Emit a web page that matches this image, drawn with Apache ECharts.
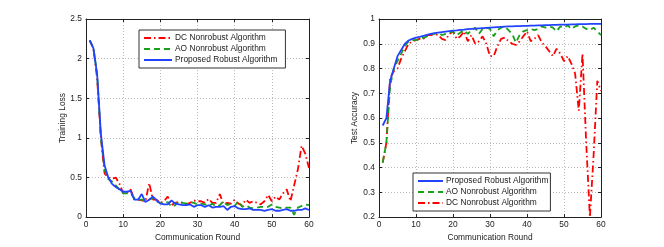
<!DOCTYPE html>
<html>
<head>
<meta charset="utf-8">
<script src="https://cdn.jsdelivr.net/npm/echarts@6/dist/echarts.min.js"></script>
<style>html,body{margin:0;padding:0;background:#fff}#c{width:664px;height:247px}</style>
</head>
<body>
<div id="c"></div>
<script>
var rounds = [];
for (var i = 1; i <= 60; i++) rounds.push(i);

var lossProposed = [2.23,2.13,1.8,1.05,0.65,0.5,0.42,0.38,0.35,0.32,0.32,0.33,0.22,0.22,0.29,0.19,0.22,0.26,0.21,0.17,0.16,0.16,0.21,0.17,0.16,0.15,0.15,0.16,0.13,0.15,0.15,0.13,0.15,0.12,0.13,0.13,0.14,0.09,0.13,0.14,0.11,0.1,0.1,0.11,0.09,0.09,0.09,0.08,0.09,0.1,0.08,0.08,0.09,0.1,0.08,0.08,0.09,0.09,0.11,0.09];
var lossAO = [2.23,2.13,1.8,1.0,0.6,0.48,0.45,0.4,0.35,0.3,0.3,0.3,0.24,0.22,0.22,0.2,0.22,0.24,0.2,0.18,0.17,0.19,0.13,0.15,0.2,0.18,0.17,0.19,0.18,0.16,0.17,0.16,0.14,0.17,0.13,0.15,0.2,0.15,0.17,0.14,0.2,0.13,0.15,0.12,0.11,0.12,0.13,0.13,0.13,0.16,0.13,0.12,0.11,0.12,0.12,0.03,0.12,0.14,0.16,0.15];
var lossDC = [2.23,2.13,1.75,1.0,0.55,0.5,0.48,0.5,0.42,0.3,0.3,0.35,0.22,0.22,0.21,0.2,0.43,0.22,0.22,0.18,0.2,0.26,0.15,0.18,0.19,0.18,0.16,0.18,0.21,0.2,0.2,0.18,0.23,0.18,0.18,0.29,0.16,0.18,0.17,0.22,0.17,0.15,0.22,0.18,0.2,0.18,0.16,0.2,0.28,0.2,0.26,0.22,0.3,0.35,0.2,0.4,0.6,0.9,0.8,0.62];

var accProposed = [0.57,0.6,0.75,0.8,0.85,0.875,0.9,0.913,0.92,0.925,0.928,0.932,0.936,0.94,0.943,0.945,0.947,0.949,0.951,0.953,0.954,0.956,0.957,0.959,0.96,0.961,0.962,0.963,0.964,0.965,0.966,0.967,0.968,0.969,0.97,0.97,0.971,0.971,0.972,0.972,0.973,0.973,0.974,0.974,0.975,0.975,0.976,0.976,0.977,0.977,0.977,0.978,0.978,0.979,0.979,0.979,0.98,0.98,0.98,0.98];
var accAO = [0.42,0.5,0.73,0.8,0.83,0.86,0.89,0.91,0.915,0.915,0.92,0.925,0.93,0.94,0.94,0.945,0.935,0.94,0.945,0.95,0.935,0.945,0.955,0.94,0.955,0.965,0.94,0.96,0.965,0.96,0.93,0.955,0.965,0.97,0.955,0.94,0.905,0.935,0.95,0.955,0.96,0.955,0.96,0.97,0.965,0.97,0.965,0.95,0.97,0.965,0.975,0.96,0.97,0.975,0.97,0.96,0.955,0.965,0.95,0.935];
var accDC = [0.42,0.5,0.76,0.79,0.8,0.84,0.87,0.9,0.91,0.915,0.92,0.92,0.935,0.935,0.94,0.935,0.92,0.915,0.94,0.95,0.92,0.93,0.95,0.91,0.935,0.9,0.91,0.93,0.9,0.85,0.85,0.89,0.92,0.925,0.91,0.9,0.895,0.91,0.93,0.95,0.91,0.92,0.935,0.905,0.89,0.87,0.85,0.88,0.86,0.83,0.85,0.82,0.78,0.63,0.86,0.5,0.2,0.45,0.75,0.71];

var xTicks = [0,10,20,30,40,50,60];
var lossTicks = [0,0.5,1,1.5,2,2.5];
var accTicks = [0.2,0.3,0.4,0.5,0.6,0.7,0.8,0.9,1];

var NAME_P = 'Proposed Robust Algorithm';
var NAME_AO = 'AO Nonrobust Algorithm';
var NAME_DC = 'DC Nonrobust Algorithm';
var C_RED = '#ff0000', C_GREEN = '#1a9f1a', C_BLUE = '#2143ff';
var FONT = 'Liberation Sans, Arial, sans-serif';
var FS = 8.4;

function pairs(ys) { return ys.map(function (v, i) { return [rounds[i], v]; }); }

function xAx(gi, show) {
  return {
    type: 'value', gridIndex: gi, min: 0, max: 60, interval: 10,
    position: show ? 'bottom' : 'top',
    name: show ? 'Communication Round' : '', nameLocation: 'middle', nameGap: 16,
    nameTextStyle: { fontFamily: FONT, fontSize: FS, color: '#222' },
    axisLine: { show: true, onZero: false, lineStyle: { color: '#222', width: 1 } },
    axisTick: { show: true, inside: true, length: 3, lineStyle: { color: '#222' } },
    axisLabel: { show: show, fontFamily: FONT, fontSize: FS, color: '#222', margin: 4 },
    splitLine: { show: show, lineStyle: { color: '#bbb', type: [1, 2], width: 1 } }
  };
}
function yAx(gi, show, min, max, interval, name, gap) {
  return {
    type: 'value', gridIndex: gi, min: min, max: max, interval: interval,
    position: show ? 'left' : 'right',
    name: show ? name : '', nameLocation: 'middle', nameGap: gap,
    nameTextStyle: { fontFamily: FONT, fontSize: FS, color: '#222' },
    axisLine: { show: true, onZero: false, lineStyle: { color: '#222', width: 1 } },
    axisTick: { show: true, inside: true, length: 3, lineStyle: { color: '#222' } },
    axisLabel: { show: show, fontFamily: FONT, fontSize: FS, color: '#222', margin: 4,
      formatter: function (v) { return String(Math.round(v * 10) / 10); } },
    splitLine: { show: show, lineStyle: { color: '#bbb', type: [1, 2], width: 1 } }
  };
}
function ser(name, data, xi, yi, color, type, z) {
  return {
    name: name, type: 'line', xAxisIndex: xi, yAxisIndex: yi, data: pairs(data),
    symbol: 'none', showSymbol: false, smooth: false, z: z, clip: true,
    lineStyle: { color: color, width: 1.8, type: type },
    itemStyle: { color: color }
  };
}

var dashDot = [7, 3, 1.5, 3];
var dashed = [6, 4];

function legend(left, top, names, rightPad, iw) {
  return {
    left: left, top: top, orient: 'vertical',
    data: names,
    backgroundColor: '#fff', borderColor: '#333', borderWidth: 1,
    padding: [4, rightPad, 4, 4], itemGap: 3, itemWidth: iw, itemHeight: 9,
    itemStyle: { opacity: 0 },
    textStyle: { fontFamily: FONT, fontSize: FS, color: '#222', padding: [0, 0, 0, -2] },
    selectedMode: false
  };
}

var chart = echarts.init(document.getElementById('c'), null, { renderer: 'canvas' });
chart.setOption({
  backgroundColor: '#fff',
  animation: false,
  grid: [
    { left: 86, top: 19, width: 223, height: 200, containLabel: false },
    { left: 379, top: 19, width: 222, height: 200, containLabel: false }
  ],
  xAxis: [xAx(0, true), xAx(1, true), xAx(0, false), xAx(1, false)],
  yAxis: [
    yAx(0, true, 0, 2.5, 0.5, 'Training Loss', 18),
    yAx(1, true, 0.2, 1, 0.1, 'Test Accuracy', 20),
    yAx(0, false, 0, 2.5, 0.5, '', 0),
    yAx(1, false, 0.2, 1, 0.1, '', 0)
  ],
  legend: [
    legend(139, 30, [NAME_DC, NAME_AO, NAME_P], 8, 28),
    legend(413, 173, [NAME_P, NAME_AO, NAME_DC], 2, 25)
  ],
  series: [
    ser(NAME_DC, lossDC, 0, 0, C_RED, dashDot, 2),
    ser(NAME_AO, lossAO, 0, 0, C_GREEN, dashed, 3),
    ser(NAME_P, lossProposed, 0, 0, C_BLUE, 'solid', 4),
    ser(NAME_DC, accDC, 1, 1, C_RED, dashDot, 2),
    ser(NAME_AO, accAO, 1, 1, C_GREEN, dashed, 3),
    ser(NAME_P, accProposed, 1, 1, C_BLUE, 'solid', 4)
  ]
});
</script>
</body>
</html>
